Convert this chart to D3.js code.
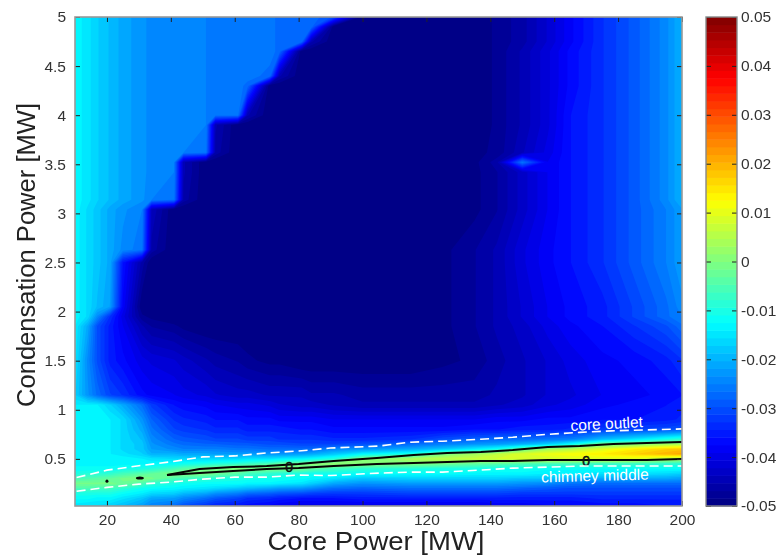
<!DOCTYPE html>
<html>
<head>
<meta charset="utf-8">
<script src="https://cdn.jsdelivr.net/npm/d3@7"></script>
<style>
  html, body { margin: 0; padding: 0; background: #fff; }
  svg { display: block; filter: blur(0.7px); }
  text { font-family: "Liberation Sans", Arial, sans-serif; }
</style>
</head>
<body>
<svg id="chart" width="781" height="559"></svg>
<script>
// core power [MW], one entry per column of the map
const coreGrid = [10,14,17,21,25,31,34,41,44,51,54,61,64,71,74,81,84,91,100,115,125,135,142,150,158,165,175,185,195,200]
// condensation power [MW], top of the map first
const condGrid = [5,4.9,4.75,4.65,4.4,4.3,4,3.9,3.62,3.52,3.42,3.14,3.04,2.63,2.5,2.05,1.95,1.85,1.5,1.15,1.05,
  0.9,0.8,0.7,0.65,0.6,0.55,0.5,0.45,0.4,0.35,0.3,0.25,0.2,0.15,0.1,0.02]
// map values in thousandths, one line per column
const mapColumns = [
  [-13,-13,-13,-13,-13,-13,-13,-13,-13,-13,-13,-13,-13,-13,-13,-13,-13,-14,-15,-17,-14, -13,-13,-13,-13,-13,-13,-13,-13,-12,-10,-6,-1,-5,-10,-12,-15],
  [-15,-15,-15,-15,-15,-15,-15,-15,-15,-15,-15,-15,-16,-16,-16,-16,-16,-21,-24,-23,-14, -13,-13,-13,-13,-13,-13,-13,-13,-12,-9,-5,-1,-5,-10,-12,-16],
  [-17,-17,-17,-17,-17,-17,-17,-17,-17,-17,-17,-17,-18,-18,-18,-19,-24,-30,-30,-27,-14, -13,-13,-13,-13,-13,-13,-13,-13,-12,-9,-4,-1,-6,-10,-13,-16],
  [-19,-19,-19,-19,-19,-19,-19,-19,-19,-19,-19,-19,-21,-21,-21,-22,-33,-35,-35,-31,-17, -14,-14,-14,-14,-14,-14,-13,-13,-12,-8,-3,-1,-6,-10,-13,-17],
  [-21,-21,-21,-21,-21,-21,-21,-21,-21,-21,-21,-21,-23,-24,-36,-38,-40,-39,-37,-33,-21, -16,-16,-16,-16,-16,-15,-13,-13,-11,-6,-1,-2,-8,-12,-15,-19],
  [-23,-23,-23,-23,-23,-23,-23,-23,-23,-23,-23,-23,-25,-26,-46,-50,-48,-45,-40,-37,-27, -23,-21,-19,-18,-18,-17,-14,-13,-10,-4,0,-5,-11,-14,-18,-22],
  [-24,-24,-24,-24,-24,-24,-24,-24,-24,-24,-24,-25,-44,-46,-50,-50,-49,-47,-41,-38,-32, -28,-26,-24,-23,-22,-20,-15,-13,-9,-3,-1,-8,-12,-16,-21,-25],
  [-24,-24,-24,-24,-24,-24,-24,-24,-24,-25,-25,-26,-50,-50,-50,-50,-50,-48,-42,-39,-36, -33,-31,-28,-26,-24,-20,-16,-12,-6,0,-5,-10,-13,-17,-22,-27],
  [-25,-25,-25,-25,-25,-25,-25,-25,-25,-45,-45,-46,-50,-50,-50,-50,-50,-49,-43,-40,-37, -34,-32,-29,-27,-25,-21,-16,-11,-4,0,-6,-11,-14,-19,-24,-30],
  [-25,-25,-25,-25,-25,-25,-25,-25,-26,-50,-50,-50,-50,-50,-50,-50,-50,-50,-45,-41,-38, -35,-33,-30,-28,-25,-21,-16,-10,-1,0,-8,-12,-15,-21,-27,-33],
  [-26,-26,-26,-26,-26,-26,-26,-45,-46,-50,-50,-50,-50,-50,-50,-50,-50,-50,-46,-42,-39, -36,-34,-31,-28,-25,-22,-16,-9,0,-2,-9,-12,-16,-23,-29,-35],
  [-26,-26,-26,-26,-26,-26,-26,-50,-50,-50,-50,-50,-50,-50,-50,-50,-50,-50,-47,-43,-40, -36,-34,-31,-29,-26,-22,-16,-8,1,-4,-10,-12,-18,-25,-31,-36],
  [-26,-26,-26,-26,-26,-27,-45,-50,-50,-50,-50,-50,-50,-50,-50,-50,-50,-50,-48,-43,-40, -37,-35,-32,-29,-26,-22,-15,-7,0,-6,-10,-13,-19,-27,-33,-37],
  [-26,-26,-26,-26,-27,-50,-50,-50,-50,-50,-50,-50,-50,-50,-50,-50,-50,-50,-49,-44,-41, -37,-35,-32,-30,-27,-23,-15,-5,0,-8,-11,-13,-21,-28,-34,-38],
  [-27,-27,-27,-27,-45,-50,-50,-50,-50,-50,-50,-50,-50,-50,-50,-50,-50,-50,-49,-44,-42, -38,-35,-33,-30,-27,-23,-14,-3,0,-9,-11,-14,-22,-29,-35,-39],
  [-27,-27,-27,-50,-50,-50,-50,-50,-50,-50,-50,-50,-50,-50,-50,-50,-50,-50,-50,-44,-43, -38,-36,-33,-31,-27,-22,-13,-1,-1,-10,-12,-15,-23,-30,-36,-40],
  [-27,-27,-45,-50,-50,-50,-50,-50,-50,-50,-50,-50,-50,-50,-50,-50,-50,-50,-50,-45,-43, -38,-36,-33,-31,-27,-21,-12,1,-3,-11,-13,-17,-24,-31,-36,-40],
  [-30,-50,-50,-50,-50,-50,-50,-50,-50,-50,-50,-50,-50,-50,-50,-50,-50,-50,-50,-45,-44, -39,-37,-34,-31,-24,-18,-9,2,-6,-11,-15,-21,-27,-32,-36,-40],
  [-50,-50,-50,-50,-50,-50,-50,-50,-50,-50,-50,-50,-50,-50,-50,-50,-50,-50,-50,-46,-45, -39,-37,-34,-30,-23,-13,0,1,-8,-12,-18,-23,-28,-32,-35,-40],
  [-50,-50,-50,-50,-50,-50,-50,-50,-50,-50,-50,-50,-50,-50,-50,-50,-50,-50,-50,-46,-45, -39,-37,-33,-27,-21,-10,4,0,-9,-12,-17,-22,-27,-31,-35,-40],
  [-50,-50,-50,-50,-50,-50,-50,-50,-50,-50,-50,-50,-50,-49,-49,-49,-49,-49,-49,-46,-45, -39,-37,-30,-25,-18,-1,6,-1,-10,-12,-17,-22,-27,-31,-35,-40],
  [-50,-50,-50,-50,-50,-50,-50,-50,-49,-49,-49,-49,-49,-47,-47,-47,-47,-47,-48,-46,-45, -39,-36,-28,-23,-14,3,7,-3,-10,-13,-17,-22,-27,-31,-35,-40],
  [-48,-48,-48,-48,-48,-48,-48,-48,-48,-46,-47,-47,-47,-45,-45,-45,-45,-45,-46,-45,-44, -38,-36,-27,-22,-11,6,8,-4,-11,-13,-17,-22,-27,-31,-35,-39],
  [-46,-46,-46,-45,-45,-45,-45,-45,-44,-26,-43,-43,-43,-41,-41,-42,-42,-43,-44,-44,-43, -38,-35,-27,-20,-3,9,9,-5,-11,-13,-18,-23,-28,-32,-35,-39],
  [-42,-42,-42,-41,-41,-41,-41,-41,-40,-39,-39,-39,-39,-38,-38,-39,-39,-40,-42,-42,-41, -37,-35,-26,-17,3,11,8,-6,-12,-14,-18,-24,-29,-32,-35,-38],
  [-38,-38,-38,-37,-37,-37,-36,-36,-36,-36,-36,-36,-36,-36,-36,-37,-37,-38,-40,-41,-40, -37,-34,-25,-12,5,12,9,-6,-12,-14,-20,-26,-30,-32,-35,-38],
  [-33,-33,-33,-33,-33,-33,-33,-33,-33,-33,-33,-33,-33,-33,-33,-35,-35,-36,-38,-39,-38, -36,-32,-19,-1,9,14,9,-7,-12,-15,-21,-27,-30,-32,-34,-37],
  [-29,-29,-29,-29,-29,-29,-29,-29,-29,-29,-29,-29,-29,-29,-29,-31,-31,-33,-37,-38,-37, -36,-31,-15,0,14,17,9,-7,-12,-15,-21,-27,-30,-32,-34,-37],
  [-24,-24,-24,-24,-24,-24,-24,-24,-24,-24,-24,-24,-25,-25,-25,-27,-27,-30,-35,-37,-36, -35,-30,-10,3,17,20,5,-8,-12,-16,-21,-27,-30,-32,-34,-36],
  [-20,-20,-20,-20,-20,-20,-20,-20,-20,-20,-20,-20,-22,-22,-22,-24,-25,-27,-33,-36,-35, -34,-29,-8,4,18,21,4,-9,-12,-17,-22,-27,-30,-32,-34,-36]
]

const xTicks = [20,40,60,80,100,120,140,160,180,200]
const yTicks = [0.5,1,1.5,2,2.5,3,3.5,4,4.5,5]
const barTicks = [-0.05,-0.04,-0.03,-0.02,-0.01,0,0.01,0.02,0.03,0.04,0.05]

// white dashed lines
const outletX = [10.5,20,30,40,50,60,70,80,90,105,115,125,137,147,158,168,178,189,200]
const outletY = [0.31,0.385,0.43,0.47,0.52,0.53,0.56,0.58,0.61,0.63,0.67,0.68,0.70,0.72,0.75,0.77,0.785,0.795,0.805]
const chimneyY = [0.17,0.21,0.243,0.263,0.294,0.314,0.314,0.335,0.33,0.355,0.365,0.365,0.386,0.406,0.416,0.427,0.427,0.427,0.427]

// black zero contour
const zeroX = [38.8,49,59.5,70,80,91,104.5,116,126.5,137,147,158,168,178.5,189,200]
const zeroUpper = [0.335,0.396,0.416,0.427,0.447,0.478,0.508,0.539,0.559,0.57,0.59,0.62,0.631,0.651,0.661,0.672]
const zeroLower = [0.335,0.355,0.376,0.396,0.406,0.427,0.447,0.457,0.468,0.478,0.478,0.488,0.488,0.488,0.488,0.498]
const blobX = [20,30.3]
const blobY = [0.273,0.305]
const blobRx = [1.5,4]
const labelX = [77,170]
const labelY = [0.42,0.48]

const svg = d3.select('#chart')
const plotL = 75, plotR = 682, plotT = 17, plotB = 506

const x = d3.scaleLinear().domain([10,200]).range([plotL,plotR])
const y = d3.scaleLinear().domain([0.02,5]).range([plotB,plotT])
const barY = d3.scaleLinear().domain([-0.05,0.05]).range([plotB,plotT])

// matlab jet
function jet(k) {
  const t = (k + 0.5) / 64
  const c = v => Math.round(255 * Math.max(0, Math.min(1, 1.5 - Math.abs(4 * t - v))))
  return `rgb(${c(3)},${c(2)},${c(1)})`
}

const n = coreGrid.length, m = condGrid.length
const values = []
for (let j = 0; j < m; j++) {
  for (let i = 0; i < n; i++) values.push(mapColumns[i][j])
}

const levels = d3.range(64).map(k => -50 + k * 100 / 64)
const contours = d3.contours().size([n,m]).thresholds(levels)(values)

// grid index -> pixel, the grid is not evenly spaced
const px = d3.scaleLinear().domain(coreGrid.map((d,i) => i + 0.5)).range(coreGrid.map(d => x(d))).clamp(true)
const py = d3.scaleLinear().domain(condGrid.map((d,j) => j + 0.5)).range(condGrid.map(d => y(d))).clamp(true)
const path = d3.geoPath(d3.geoTransform({
  point: function (a, b) { this.stream.point(px(a), py(b)) }
}))

svg.append('rect')
  .attr('x', plotL).attr('y', plotT)
  .attr('width', plotR - plotL).attr('height', plotB - plotT)
  .attr('fill', jet(0))

svg.append('g').selectAll('path')
  .data(contours)
  .enter()
  .append('path')
  .attr('d', path)
  .attr('fill', (d,i) => jet(i))

// zero contour
const line = d3.line().x(d => x(d[0])).y(d => y(d[1]))
const lines = svg.append('g').attr('fill', 'none').attr('stroke', '#050505').attr('stroke-width', 2)
lines.append('path').attr('d', line(zeroX.map((d,i) => [d, zeroUpper[i]])))
lines.append('path').attr('d', line(zeroX.map((d,i) => [d, zeroLower[i]])))

svg.append('g').selectAll('ellipse')
  .data(blobX)
  .enter()
  .append('ellipse')
  .attr('cx', d => x(d))
  .attr('cy', (d,i) => y(blobY[i]))
  .attr('rx', (d,i) => blobRx[i])
  .attr('ry', 1.6)
  .attr('fill', '#050505')

svg.append('g').selectAll('text')
  .data(labelX)
  .enter()
  .append('text')
  .attr('x', d => x(d))
  .attr('y', (d,i) => y(labelY[i]) + 5)
  .attr('text-anchor', 'middle')
  .attr('font-size', 14)
  .attr('fill', '#111')
  .attr('stroke', '#111')
  .attr('stroke-width', 0.5)
  .text('0')

// dashed white lines
const dashed = svg.append('g').attr('fill', 'none').attr('stroke', '#fff').attr('stroke-width', 1.6).attr('stroke-dasharray', '9 5')
dashed.append('path').attr('d', line(outletX.map((d,i) => [d, outletY[i]])))
dashed.append('path').attr('d', line(outletX.map((d,i) => [d, chimneyY[i]])))

svg.append('text')
  .attr('transform', 'translate(607,429) rotate(-3)')
  .attr('text-anchor', 'middle')
  .attr('font-size', 15.5)
  .attr('fill', '#fff')
  .text('core outlet')
svg.append('text')
  .attr('transform', 'translate(595,481) rotate(-1.5)')
  .attr('text-anchor', 'middle')
  .attr('font-size', 15.5)
  .attr('fill', '#fff')
  .text('chimney middle')

// axes, inward ticks on all four sides
function styleAxis(g) {
  g.select('.domain').remove()
  g.selectAll('.tick line').attr('stroke', '#222').attr('stroke-width', 1)
  g.selectAll('text').attr('font-size', 15.5).attr('fill', '#333').attr('font-family', '"Liberation Sans", Arial, sans-serif')
}
svg.append('g').attr('transform', `translate(0,${plotB})`)
  .call(d3.axisBottom(x).tickValues(xTicks).tickFormat(d3.format('d')).tickSize(-5).tickPadding(8))
  .call(styleAxis)
svg.append('g').attr('transform', `translate(0,${plotT})`)
  .call(d3.axisTop(x).tickValues(xTicks).tickFormat('').tickSize(-5))
  .call(styleAxis)
svg.append('g').attr('transform', `translate(${plotL},0)`)
  .call(d3.axisLeft(y).tickValues(yTicks).tickFormat(d => String(d)).tickSize(-5).tickPadding(9))
  .call(styleAxis)
svg.append('g').attr('transform', `translate(${plotR},0)`)
  .call(d3.axisRight(y).tickValues(yTicks).tickFormat('').tickSize(-5))
  .call(styleAxis)

svg.append('rect')
  .attr('x', plotL).attr('y', plotT)
  .attr('width', plotR - plotL).attr('height', plotB - plotT)
  .attr('fill', 'none').attr('stroke', '#999').attr('stroke-width', 1.6)

// colorbar
const barLeft = 706, barRight = 737
const band = d3.scaleBand().domain(d3.range(64)).range([plotB,plotT])
svg.append('g').selectAll('rect')
  .data(d3.range(64))
  .enter()
  .append('rect')
  .attr('x', barLeft)
  .attr('y', d => band(d))
  .attr('width', barRight - barLeft)
  .attr('height', band.bandwidth() + 0.5)
  .attr('fill', d => jet(d))

svg.append('g').attr('transform', `translate(${barRight},0)`)
  .call(d3.axisRight(barY).tickValues(barTicks).tickFormat(d => String(d)).tickSize(-5).tickPadding(4))
  .call(styleAxis)
svg.append('g').attr('transform', `translate(${barLeft},0)`)
  .call(d3.axisLeft(barY).tickValues(barTicks).tickFormat('').tickSize(-5))
  .call(styleAxis)
svg.append('rect')
  .attr('x', barLeft).attr('y', plotT)
  .attr('width', barRight - barLeft).attr('height', plotB - plotT)
  .attr('fill', 'none').attr('stroke', '#888').attr('stroke-width', 1.4)

// axis titles
svg.append('text')
  .attr('x', 376).attr('y', 550)
  .attr('text-anchor', 'middle')
  .attr('font-size', 25)
  .attr('fill', '#222')
  .attr('textLength', 217)
  .attr('lengthAdjust', 'spacingAndGlyphs')
  .text('Core Power [MW]')
svg.append('text')
  .attr('transform', 'translate(35,255) rotate(-90)')
  .attr('text-anchor', 'middle')
  .attr('font-size', 25)
  .attr('fill', '#222')
  .attr('textLength', 304)
  .attr('lengthAdjust', 'spacingAndGlyphs')
  .text('Condensation Power [MW]')
</script>
</body>
</html>
